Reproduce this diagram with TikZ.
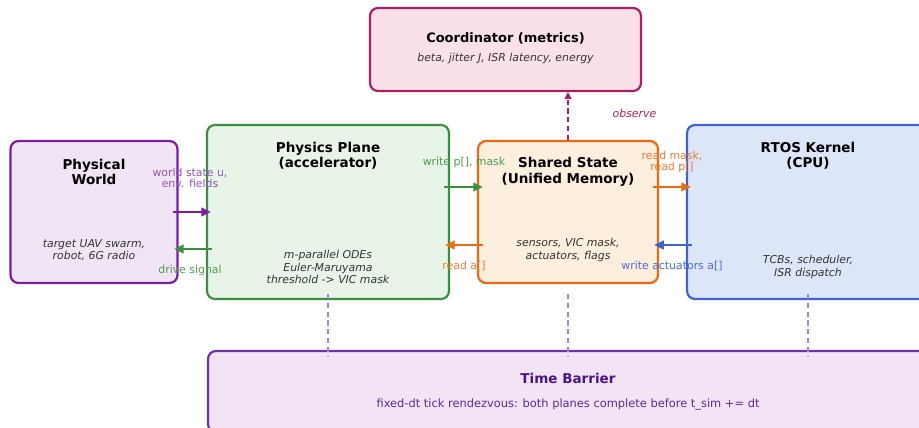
\documentclass[tikz,border=0pt]{standalone}
\usepackage{fontspec}
\setmainfont{DejaVu Sans}
\usetikzlibrary{calc,arrows.meta}
\definecolor{worldline}{HTML}{7B1FA2}
\definecolor{worldfill}{HTML}{F1E4F4}
\definecolor{worldtext}{HTML}{9355B8}
\definecolor{physline}{HTML}{3E8E41}
\definecolor{physfill}{HTML}{E8F4E8}
\definecolor{phystext}{HTML}{4F9A50}
\definecolor{shareline}{HTML}{EC6A12}
\definecolor{sharefill}{HTML}{FDEFDD}
\definecolor{sharetext}{HTML}{EE7A35}
\definecolor{rtosline}{HTML}{3D63D8}
\definecolor{rtosfill}{HTML}{DCE6F8}
\definecolor{rtostext}{HTML}{4D6CD6}
\definecolor{coordline}{HTML}{AD1F62}
\definecolor{coordfill}{HTML}{FAE0E8}
\definecolor{barrierline}{HTML}{6A35A0}
\definecolor{barrierfill}{HTML}{F2E4F4}
\definecolor{barriertitle}{HTML}{4A148C}
\definecolor{barriertext}{HTML}{5E2A9A}
\definecolor{tickline}{HTML}{9F86D8}
\definecolor{descgray}{HTML}{333333}
\tikzset{
    box/.style={draw, rounded corners=4.5pt, line width=1.25pt, inner sep=0pt},
    title/.style={font=\fontsize{7.7}{8.8}\selectfont\bfseries, align=center},
    desc/.style={font=\fontsize{6.2}{6.9}\selectfont\itshape, align=center, text=descgray},
    lbl/.style={font=\fontsize{6.2}{6.6}\selectfont, align=center},
    flow/.style={line width=1.2pt, -{Triangle[length=5.5pt,width=5pt]}},
    observe/.style={line width=0.9pt, coordline, dash pattern=on 3pt off 2pt,
            -{Triangle[length=3.8pt,width=3.8pt]}},
    tick/.style={line width=0.6pt, tickline, dash pattern=on 3pt off 2pt}
}
\begin{document}
\begin{tikzpicture}[x=0.02cm,y=-0.02cm]
            \useasboundingbox (0,0) rectangle (919,428);
            \clip (0,0) rectangle (919,428);
            % the boxes
            \node[box, draw=worldline, fill=worldfill, minimum width=3.34cm, minimum height=2.84cm] (pw) at (94,212) {};
            \node[box, draw=physline, fill=physfill, minimum width=4.84cm, minimum height=3.48cm] (pp) at (328,212) {};
            \node[box, draw=shareline, fill=sharefill, minimum width=3.6cm, minimum height=2.84cm] (ss) at (568,212) {};
            \node[box, draw=rtosline, fill=rtosfill, minimum width=4.86cm, minimum height=3.48cm] (rk) at (808.5,212) {};
            \node[box, draw=coordline, fill=coordfill, minimum width=5.42cm, minimum height=1.66cm] (co) at (505.5,49.5) {};
            \node[box, draw=barrierline, fill=barrierfill, minimum width=14.4cm, minimum height=1.62cm] (tb) at (568,391.5) {};
            \node[title] (pw-t) at (94,172) {Physical\\World};
            \node[desc] (pw-d) at (94,250) {target UAV swarm,\\robot, 6G radio};
            \node[title] (pp-t) at (328,155.5) {Physics Plane\\(accelerator)};
            \node[desc] (pp-d) at (328,267) {m-parallel ODEs\\Euler-Maruyama\\threshold -> VIC mask};
            \node[title] (ss-t) at (568,172) {Shared State\\(Unified Memory)};
            \node[desc] (ss-d) at (568,250) {sensors, VIC mask,\\actuators, flags};
            \node[title] (rk-t) at (808,155.5) {RTOS Kernel\\(CPU)};
            \node[desc] (rk-d) at (808,267) {TCBs, scheduler,\\ISR dispatch};
            \node[title, font=\fontsize{7.4}{8.8}\selectfont\bfseries] (co-t) at (505.5,38.5) {Coordinator (metrics)};
            \node[desc] (co-d) at (505.5,59) {beta, jitter J, ISR latency, energy};
            \node[title, text=barriertitle] (tb-t) at (568,378) {Time Barrier};
            \node[lbl, text=barriertext, font=\fontsize{6.5}{7}\selectfont] (tb-d) at (568,405) {fixed-dt tick rendezvous: both planes complete before t\_sim += dt};
            % ticks down to the barrier
            \draw[tick] ($(pp.south)+(0,-6)$) -- ($(pp.south |- tb.north)+(0,6)$);
            \draw[tick] ($(ss.south)+(0,10)$) -- ($(ss.south |- tb.north)+(0,6)$);
            \draw[tick] ($(rk.south)+(-0.5,-6)$) -- ($(rk.south |- tb.north)+(-0.5,6)$);
            % data flow
            \draw[flow, worldline] ($(pw.east)+(-6,0)$) -- ($(pp.west)+(5,0)$);
            \draw[flow, physline] ($(pp.west)+(6,37)$) -- ($(pw.east)+(-4.5,37)$);
            \draw[flow, physline] ($(pp.east)+(-6,-25)$) -- ($(ss.west)+(6,-25)$);
            \draw[flow, shareline] ($(ss.west)+(6,33)$) -- ($(pp.east)+(-5,33)$);
            \draw[flow, shareline] ($(ss.east)+(-6,-25)$) -- ($(rk.west)+(5,-25)$);
            \draw[flow, rtosline] ($(rk.west)+(6,33)$) -- ($(ss.east)+(-5,33)$);
            \draw[observe] (ss.north) -- (co.south -| ss.north);
            % arrow labels
            \node[lbl, text=worldtext] (l-world) at (190,178) {world state u,\\env. fields};
            \node[lbl, text=phystext] (l-drive) at (190,270) {drive signal};
            \node[lbl, text=phystext] (l-write) at (464,162) {write p[], mask};
            \node[lbl, text=sharetext] (l-reada) at (464,266) {read a[]};
            \node[lbl, text=sharetext] (l-readm) at (672,162) {read mask,\\read p[]};
            \node[lbl, text=rtostext] (l-act) at (672,266) {write actuators a[]};
            \node[lbl, text=coordline, font=\fontsize{6.2}{6.6}\selectfont\itshape] (l-obs) at (634.5,113) {observe};
\end{tikzpicture}
\end{document}
